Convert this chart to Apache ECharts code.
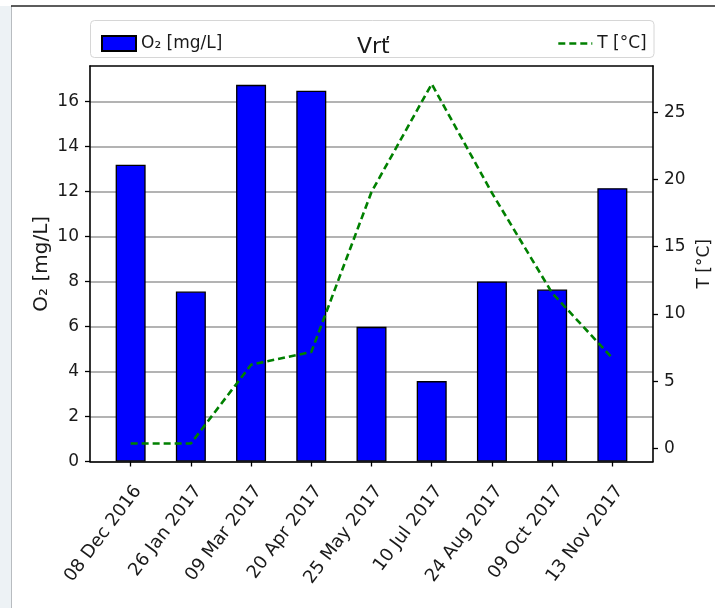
<!DOCTYPE html>
<html>
<head>
<meta charset="utf-8">
<script src="https://cdn.jsdelivr.net/npm/echarts@6/dist/echarts.min.js"></script>
<style>
  html, body { margin: 0; padding: 0; background: #ffffff; }
  #chart { width: 715px; height: 608px; }
</style>
</head>
<body>
<div id="chart"></div>
<script>
// Sampling dates (category labels)
const sampleDates = ['08 Dec 2016', '26 Jan 2017', '09 Mar 2017', '20 Apr 2017', '25 May 2017',
                     '10 Jul 2017', '24 Aug 2017', '09 Oct 2017', '13 Nov 2017'];
// Dissolved oxygen, mg/L
const oxygen = [13.18, 7.55, 16.73, 16.47, 5.98, 3.57, 8.0, 7.64, 12.14];
// Water temperature, °C
const temperature = [0.37, 0.37, 6.23, 7.17, 19.07, 27.1, 19.0, 11.56, 6.72];
// Tick labels on both value axes
const oxygenTicks = [0, 2, 4, 6, 8, 10, 12, 14, 16];
const temperatureTicks = [0, 5, 10, 15, 20, 25];

const FONT = 'DejaVu Sans';
const INK = '#1a1a1a';

// Autoscale with a 5% margin, like the usual plotting default
function padded(lo, hi) {
  const m = (hi - lo) * 0.05;
  return [lo - m, hi + m];
}
const xRange = padded(-0.25, sampleDates.length - 1 + 0.25);
const o2Range = [0, Math.max(...oxygen) * 1.05];
const tRange = padded(Math.min(...temperature), Math.max(...temperature));
const dateIdx = sampleDates.map((_, i) => i);

const chart = echarts.init(document.getElementById('chart'), null, { renderer: 'canvas' });

const axisLineStyle = { color: '#000', width: 1.6 };
const tickStyle = { color: '#000', width: 1.3 };
const tempLine = { color: '#008000', width: 2.6, type: [7, 4] };

chart.setOption({
  animation: false,
  backgroundColor: '#ffffff',
  textStyle: { fontFamily: FONT },
  graphic: [
    { type: 'rect', z: 0, shape: { x: 0, y: 6, width: 11, height: 602 }, style: { fill: '#edf2f5' } },
    { type: 'line', z: 0, shape: { x1: 11.5, y1: 6, x2: 11.5, y2: 608 }, style: { stroke: '#b8bcc0', lineWidth: 1 } },
    { type: 'line', z: 0, shape: { x1: 11, y1: 6, x2: 715, y2: 6 }, style: { stroke: '#262626', lineWidth: 1.5 } },
    { type: 'rect', z: 1, shape: { x: 90.5, y: 20.5, width: 563.5, height: 37, r: 4 },
      style: { fill: '#ffffff', stroke: '#d6d6d6', lineWidth: 1 } }
  ],
  title: {
    text: 'Vrť',
    left: 352,
    top: 31,
    textStyle: { fontFamily: FONT, fontSize: 22, fontWeight: 'normal', color: INK }
  },
  legend: [
    {
      data: [{ name: 'O₂ [mg/L]', icon: 'rect' }],
      left: 96, top: 30,
      itemWidth: 34, itemHeight: 15, itemGap: 10,
      textStyle: { fontFamily: FONT, fontSize: 17, color: INK }
    },
    {
      data: ['T [°C]'],
      left: 552, top: 30,
      itemWidth: 34, itemHeight: 15, itemGap: 10,
      itemStyle: { opacity: 0 },
      lineStyle: tempLine,
      textStyle: { fontFamily: FONT, fontSize: 17, color: INK }
    }
  ],
  grid: { left: 90, right: 62, top: 66, bottom: 146.5, containLabel: false, outerBoundsMode: 'none' },
  xAxis: [
    {
      type: 'value', position: 'bottom',
      min: xRange[0], max: xRange[1],
      axisLine: { show: true, onZero: false, lineStyle: axisLineStyle },
      axisTick: { show: true, customValues: dateIdx, length: 5, lineStyle: tickStyle },
      axisLabel: {
        customValues: dateIdx,
        formatter: v => sampleDates[Math.round(v)],
        rotate: 53, margin: 21, verticalAlign: 'top',
        fontFamily: FONT, fontSize: 18, color: INK
      },
      splitLine: { show: false }
    },
    {
      type: 'value', position: 'top',
      min: xRange[0], max: xRange[1],
      axisLine: { show: true, onZero: false, lineStyle: axisLineStyle },
      axisTick: { show: false }, axisLabel: { show: false }, splitLine: { show: false }
    }
  ],
  yAxis: [
    {
      type: 'value', position: 'left',
      min: o2Range[0], max: o2Range[1],
      name: 'O₂ [mg/L]', nameLocation: 'middle', nameGap: 38, nameRotate: 90,
      nameMoveOverlap: false,
      nameTextStyle: { fontFamily: FONT, fontSize: 20, color: INK },
      axisLine: { show: true, onZero: false, lineStyle: axisLineStyle },
      axisTick: { show: true, customValues: oxygenTicks, length: 5, lineStyle: tickStyle },
      axisLabel: { customValues: oxygenTicks, margin: 11, fontFamily: FONT, fontSize: 17, color: INK },
      splitLine: { show: true, lineStyle: { color: '#9a9a9a', width: 1.6 } }
    },
    {
      type: 'value', position: 'right',
      min: tRange[0], max: tRange[1],
      name: 'T [°C]', nameLocation: 'middle', nameGap: 40, nameRotate: 90,
      nameTextStyle: { fontFamily: FONT, fontSize: 17, color: INK },
      axisLine: { show: true, onZero: false, lineStyle: axisLineStyle },
      axisTick: { show: true, customValues: temperatureTicks, length: 5, lineStyle: tickStyle },
      axisLabel: { customValues: temperatureTicks, margin: 11, fontFamily: FONT, fontSize: 17, color: INK },
      splitLine: { show: false }
    }
  ],
  series: [
    {
      name: 'O₂ [mg/L]',
      type: 'bar',
      xAxisIndex: 0, yAxisIndex: 0,
      barWidth: 30,
      data: oxygen.map((v, i) => [i, v]),
      itemStyle: { color: '#0000ff', borderColor: '#000', borderWidth: 1.3 },
      z: 2
    },
    {
      name: 'T [°C]',
      type: 'line',
      xAxisIndex: 0, yAxisIndex: 1,
      symbol: 'none',
      data: temperature.map((v, i) => [i, v]),
      lineStyle: tempLine,
      itemStyle: { color: '#008000' },
      z: 3
    }
  ]
});
</script>
</body>
</html>
